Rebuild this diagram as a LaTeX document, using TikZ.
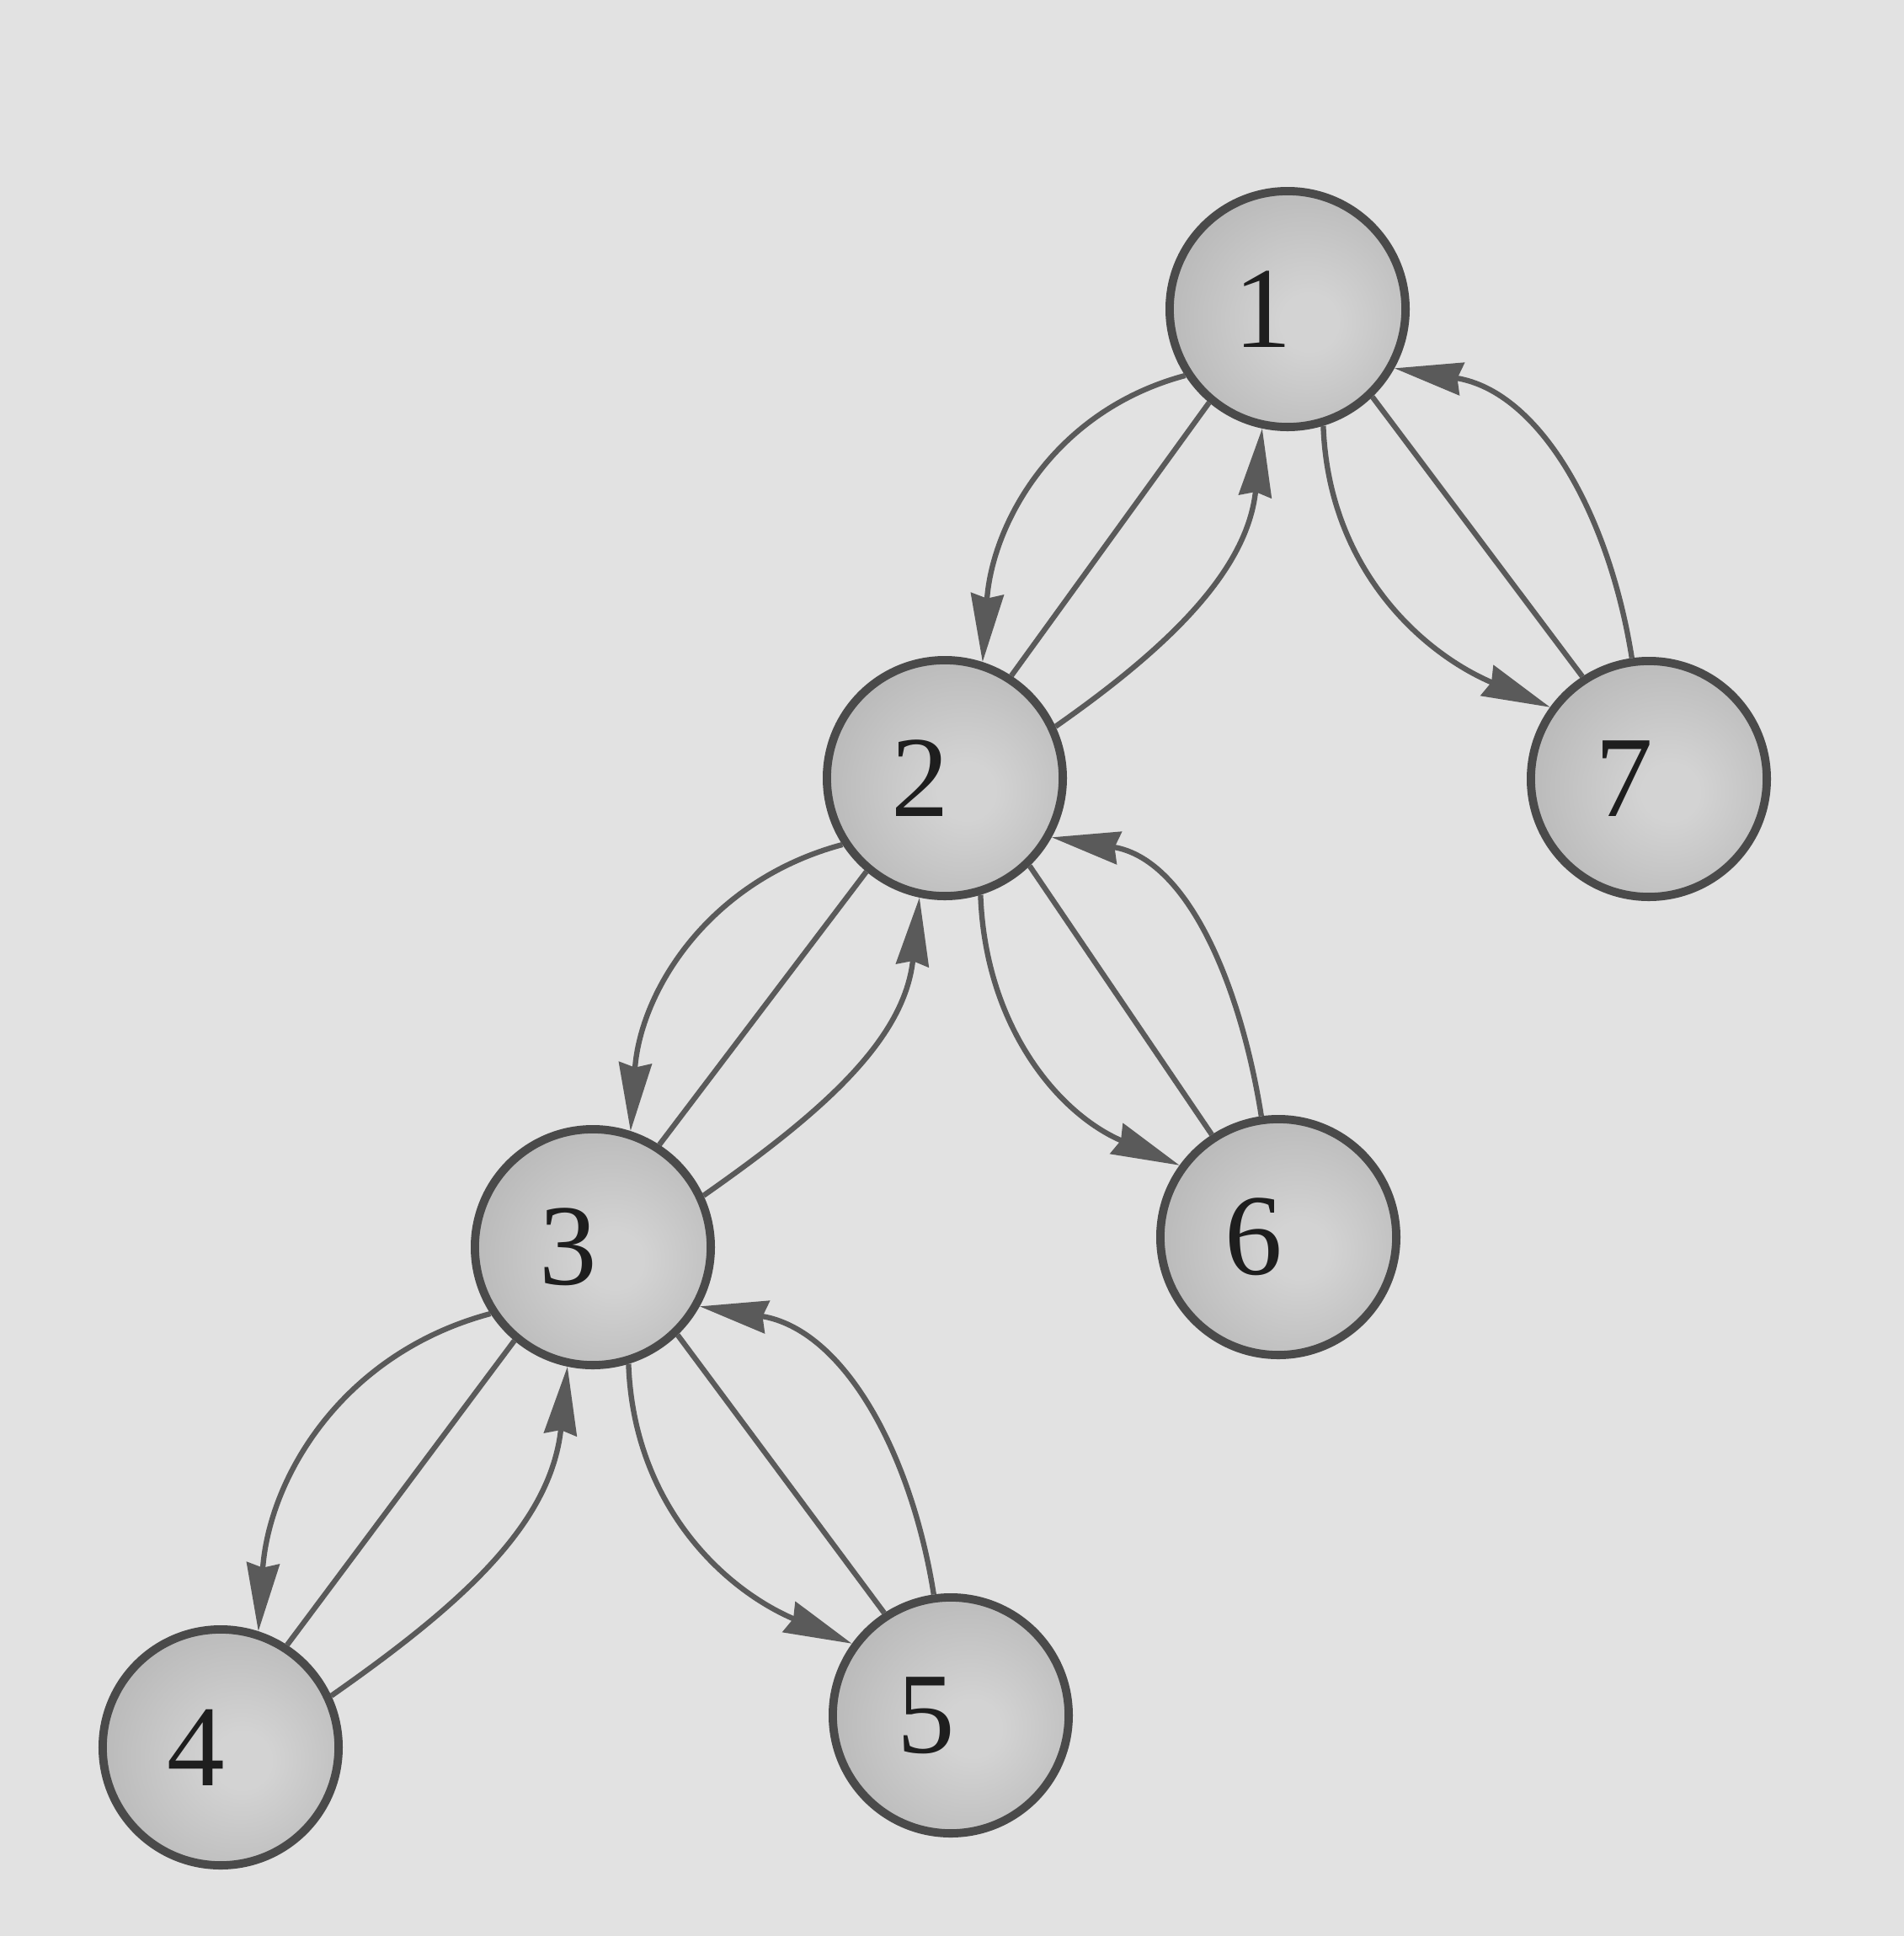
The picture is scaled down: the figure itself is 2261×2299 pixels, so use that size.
\documentclass[tikz,border=0pt]{standalone}
\usepackage{fontspec}
\setmainfont{Liberation Serif}
\usetikzlibrary{arrows.meta}
\definecolor{paper}{HTML}{E2E2E2}
\definecolor{rim}{HTML}{4A4A4A}
\definecolor{edgec}{HTML}{5A5A5A}
\definecolor{ballin}{HTML}{D3D3D3}
\definecolor{ballout}{HTML}{A2A2A2}
\definecolor{digitc}{HTML}{1E1E1E}
\pgfdeclareradialshading{ballshade}{\pgfpoint{5bp}{-3bp}}{color(0bp)=(ballin); color(6bp)=(ballin); color(50bp)=(ballout); color(80bp)=(ballout)}
\tikzset{
  ball/.style={circle, minimum size=2.8cm, inner sep=0pt, draw=rim, line width=2.8pt,
    shading=ballshade},
  digit/.style={font=\fontsize{39}{39}\selectfont, text=digitc, inner sep=0pt, xshift=-0.29cm},
  link/.style={draw=edgec, line width=1.8pt},
  arr/.style={link, -{Stealth[length=23pt,width=11pt,inset=1.5pt]}}
}
\begin{document}
\begin{tikzpicture}[x=0.01cm, y=-0.01cm]
\fill[paper] (0,0) rectangle (2261,2299);
\useasboundingbox (0,0) rectangle (2261,2299);

\node[ball, label={[digit]center:1}] (n1) at (1529,367) {};
\node[ball, label={[digit]center:2}] (n2) at (1122,924) {};
\node[ball, label={[digit]center:3}] (n3) at (704,1481) {};
\node[ball, label={[digit]center:4}] (n4) at (262,2075) {};
\node[ball, label={[digit]center:5}] (n5) at (1129,2037) {};
\node[ball, label={[digit]center:6}] (n6) at (1518,1469) {};
\node[ball, label={[digit]center:7}] (n7) at (1958,925) {};

% left-lower pairs: parent -> child
\foreach \p/\c in {n1/n2, n2/n3, n3/n4}{
  \draw[link] (\p.230) -- (\c.57);
  \draw[arr] (\p.213) to[out=195, in=86] (\c.72);
  \draw[arr] (\c.25) to[out=35, in=264] (\p.258);
}
% right-lower pairs
\foreach \p/\c in {n1/n7, n2/n6, n3/n5}{
  \draw[link] (\p.314) -- (\c.123);
  \draw[arr] (\p.287) to[out=272, in=157] (\c.144);
  \draw[arr] (\c.98) to[out=99, in=351] (\p.331);
}
\end{tikzpicture}
\end{document}
